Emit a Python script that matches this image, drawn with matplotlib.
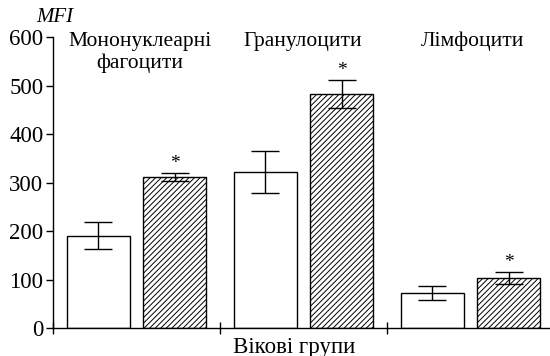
import matplotlib
matplotlib.use("Agg")
import matplotlib.pyplot as plt
import numpy as np

plt.rcParams['font.family'] = ['Liberation Serif', 'DejaVu Serif']
plt.rcParams['hatch.linewidth'] = 0.7
plt.rcParams['hatch.color'] = '#444444'

categories = ["Мононуклеарні\nфагоцити", "Гранулоцити", "Лімфоцити"]
group1_vals = [191, 322, 73]
group1_err = [28, 44, 15]
group2_vals = [311, 482, 104]
group2_err = [8, 29, 12]
significant = [True, True, True]
yticks = [0, 100, 200, 300, 400, 500, 600]

fig = plt.figure(figsize=(5.5, 3.56), dpi=100)
ax = fig.add_axes([53/550, 1-328.3/356, (550-53)/550, 291.3/356])

x = np.arange(len(categories))
w = 0.377
off = 0.23
ax.bar(x - off, group1_vals, w, color='white', edgecolor='black', linewidth=1.0,
       yerr=group1_err, capsize=10, error_kw=dict(elinewidth=1.0, capthick=1.0, ecolor='black'))
ax.bar(x + off, group2_vals, w, color='white', edgecolor='black', linewidth=1.0, hatch='//////',
       yerr=group2_err, capsize=10, error_kw=dict(elinewidth=1.0, capthick=1.0, ecolor='black'))

for xi, v, e, s in zip(x + off, group2_vals, group2_err, significant):
    if s:
        ax.text(xi, v + e + 3, '*', ha='center', va='bottom', fontsize=14)

ax.set_xlim(-0.5, 2.476)
ax.set_ylim(0, 600)
ax.set_yticks(yticks)
ax.set_yticklabels([str(t) for t in yticks], fontsize=16.5)
ax.set_xticks([-0.5, 0.5, 1.5])
ax.set_xticklabels([])
ax.tick_params(axis='x', direction='inout', length=9, width=1.0)
ax.tick_params(axis='y', direction='out', length=5, width=1.0, pad=2)
ax.spines['top'].set_visible(False)
ax.spines['right'].set_visible(False)
ax.spines['left'].set_linewidth(1.0)
ax.spines['bottom'].set_linewidth(1.0)

label_x = [0.021, 0.997, 2.01]
for lx, c in zip(label_x, categories):
    ax.text(lx, 611, c, ha='center', va='top', fontsize=15.5, linespacing=1.2)

fig.text(55/550, 1-18/356, 'MFI', ha='center', va='center', fontsize=15, style='italic')
fig.text(294/550, 1-347/356, 'Вікові групи', ha='center', va='center', fontsize=16.5)

fig.savefig('out.png', dpi=100)
